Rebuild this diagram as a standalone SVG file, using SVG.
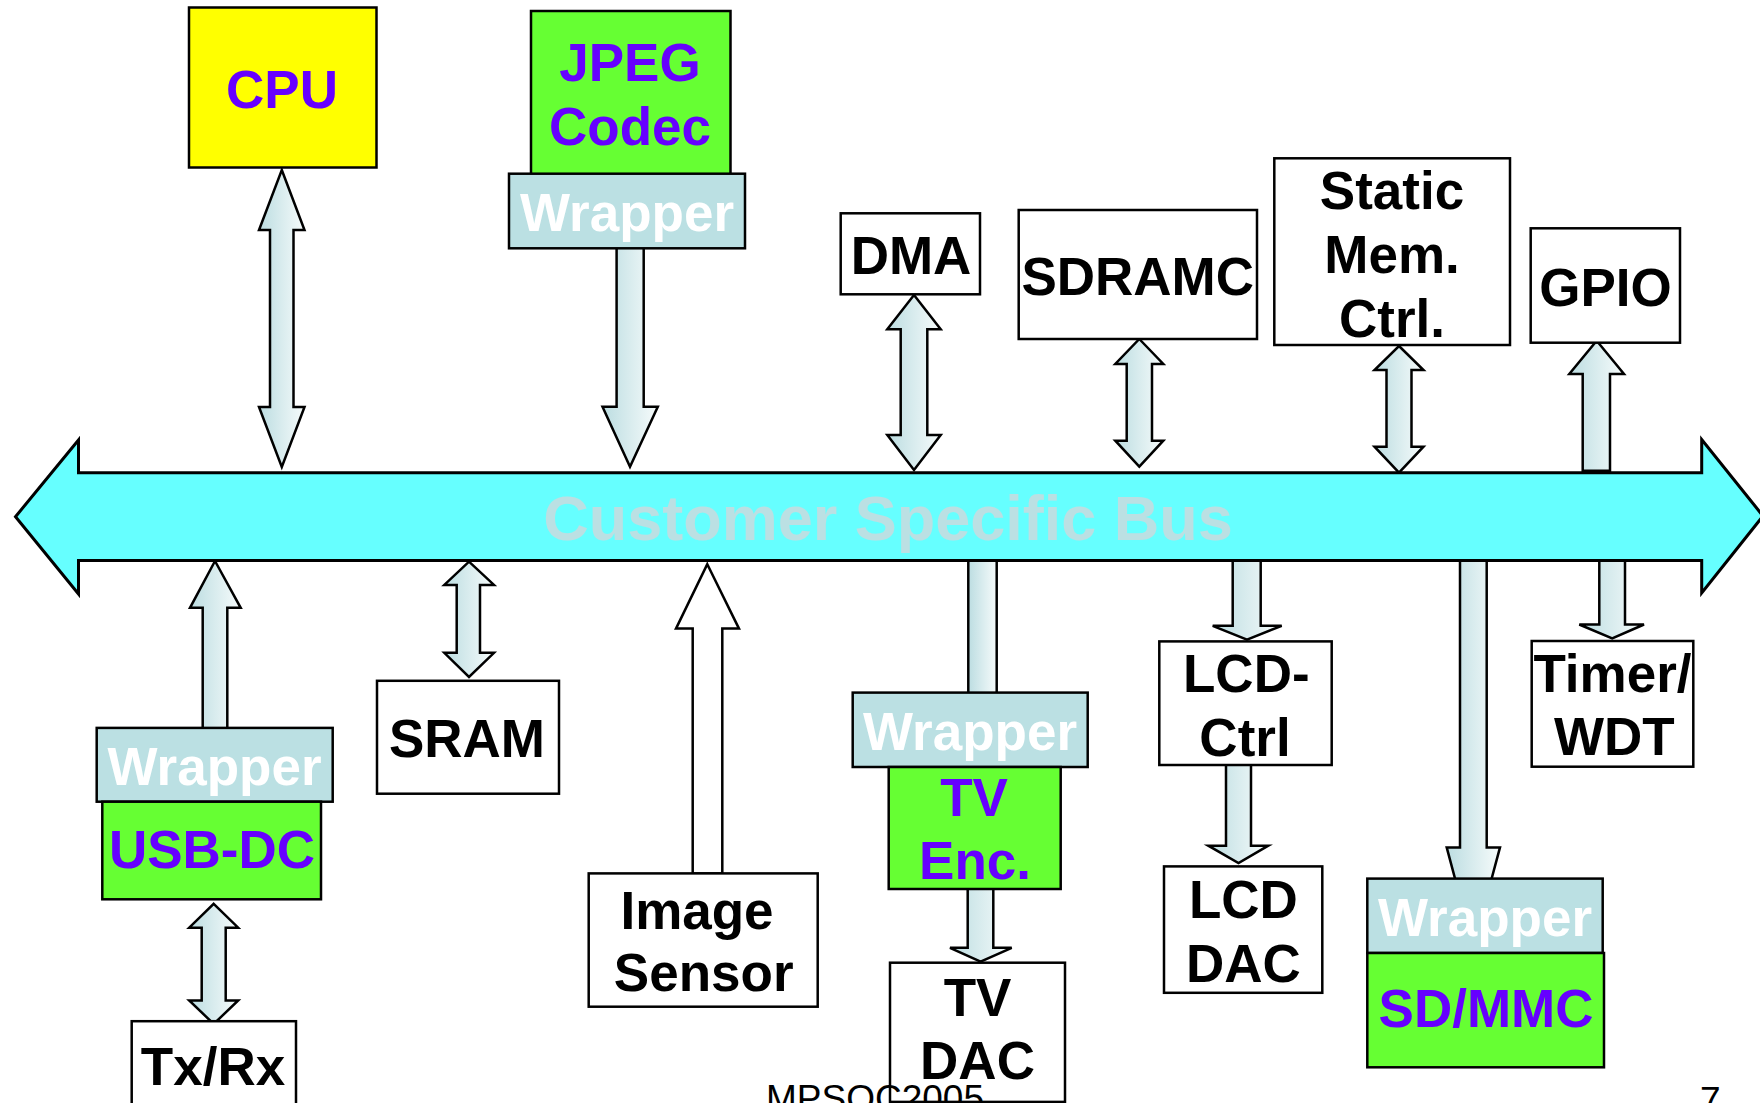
<svg xmlns="http://www.w3.org/2000/svg" width="1760" height="1103" viewBox="0 0 1760 1103">
<defs>
<linearGradient id="ag" x1="0" y1="0" x2="1" y2="0">
<stop offset="0" stop-color="#BCDDE1"/>
<stop offset="1" stop-color="#F6FBFB"/>
</linearGradient>
<style>
.arr{fill:url(#ag);stroke:#000;stroke-width:2.5;stroke-linejoin:miter}
.warr{fill:#fff;stroke:#000;stroke-width:2.5}
.box{fill:#fff;stroke:#000;stroke-width:2.5}
.grn{fill:#66FF33;stroke:#000;stroke-width:2.5}
.yel{fill:#FFFF00;stroke:#000;stroke-width:2.5}
.wrp{fill:#BBE0E3;stroke:#000;stroke-width:2.5}
.bus{fill:#66FFFF;stroke:#000;stroke-width:3}
text{font-family:"Liberation Sans",Arial,Helvetica,sans-serif;font-weight:bold;font-size:53px;text-anchor:middle}
.k{fill:#000}
.p{fill:#6600FF}
.w{fill:#fff}
.bt{fill:#BBE0E3;font-size:63px}
.ft{font-weight:normal;font-size:37px;text-anchor:start;fill:#000}
</style>
</defs>

<g id="connectors">
<!-- CPU <-> bus -->
<polygon class="arr" points="281.8,170 304.5,230 293.5,230 293.5,407 304.5,407 281.8,467 259,407 270,407 270,230 259,230"/>
<!-- JPEG -> bus -->
<polygon class="arr" points="616.6,246 643.7,246 643.7,406.7 657.8,406.7 630,466.7 602.5,406.7 616.6,406.7"/>
<!-- DMA <-> bus -->
<polygon class="arr" points="914,295 940.7,329.3 927.3,329.3 927.3,435 940.7,435 914,470 887.3,435 900.7,435 900.7,329.3 887.3,329.3"/>
<!-- SDRAMC <-> bus -->
<polygon class="arr" points="1139.3,339 1163.3,364 1152,364 1152,440.7 1163.3,440.7 1139.3,466.7 1115.3,440.7 1126.7,440.7 1126.7,364 1115.3,364"/>
<!-- Static Mem <-> bus -->
<polygon class="arr" points="1399,346 1423.5,370 1411.5,370 1411.5,446.7 1423.5,446.7 1399,472.7 1374.5,446.7 1386.5,446.7 1386.5,370 1374.5,370"/>
<!-- bus -> GPIO -->
<polygon class="arr" points="1596.7,340.7 1624,374 1610,374 1610,470.7 1582.7,470.7 1582.7,374 1569.3,374"/>
<!-- USB wrapper -> bus -->
<polygon class="arr" points="215,561 240.7,607.8 227.3,607.8 227.3,730 202.7,730 202.7,607.8 190,607.8"/>
<!-- SRAM <-> bus -->
<polygon class="arr" points="469,561.7 494,584.9 480,584.9 480,652.8 494,652.8 469,677 444.3,652.8 456.7,652.8 456.7,584.9 444.3,584.9"/>
<!-- Image sensor -> bus -->
<polygon class="warr" points="707.3,564.2 739,628.6 722.3,628.6 722.3,873.4 692.7,873.4 692.7,628.6 676,628.6"/>
<!-- bus -> TV wrapper -->
<polygon class="arr" points="968.3,556 996.7,556 996.7,695 968.3,695"/>
<!-- TV Enc -> TV DAC -->
<polygon class="arr" points="967.7,887 993.3,887 993.3,947.8 1011.7,947.8 980.6,961.7 950,947.8 967.7,947.8"/>
<!-- USB-DC <-> Tx/Rx -->
<polygon class="arr" points="213.7,903.8 238.2,927.7 225.7,927.7 225.7,1000.4 238.2,1000.4 213.7,1024 189.2,1000.4 201.7,1000.4 201.7,927.7 189.2,927.7"/>
<!-- bus -> LCD-Ctrl -->
<polygon class="arr" points="1232.7,556 1260.7,556 1260.7,625.8 1281.7,625.8 1247,639.6 1212.7,625.8 1232.7,625.8"/>
<!-- LCD-Ctrl -> LCD DAC -->
<polygon class="arr" points="1226,763 1251,763 1251,845.7 1268.3,845.7 1238.5,863 1208.3,845.7 1226,845.7"/>
<!-- bus -> SD wrapper -->
<polygon class="arr" points="1460,556 1486.7,556 1486.7,847.4 1500,847.4 1473.3,947 1446.7,847.4 1460,847.4"/>
<!-- bus -> Timer/WDT -->
<polygon class="arr" points="1599.3,556 1625,556 1625,624.5 1644,624.5 1612.2,638.5 1579.3,624.5 1599.3,624.5"/>
</g>

<g id="bus">
<polygon class="bus" points="15.5,516.7 78.5,440 78.5,472.7 1701.7,472.7 1701.7,439.5 1763,516 1701.7,593 1701.7,560.5 78.5,560.5 78.5,594"/>
<text class="bt" x="888" y="540">Customer Specific Bus</text>
</g>

<g id="cpu">
<rect class="yel" x="189" y="7.5" width="187.5" height="160"/>
<text class="p" x="282" y="108">CPU</text>
</g>

<g id="jpeg">
<rect class="grn" x="531" y="11" width="199.5" height="164"/>
<text class="p" x="630" y="81">JPEG</text>
<text class="p" x="630" y="145">Codec</text>
</g>
<g id="jpeg-wrapper">
<rect class="wrp" x="509" y="173.7" width="236" height="74.6"/>
<text class="w" x="627" y="231">Wrapper</text>
</g>

<g id="dma">
<rect class="box" x="840.7" y="213.3" width="139.3" height="81"/>
<text class="k" x="911" y="274.3">DMA</text>
</g>

<g id="sdramc">
<rect class="box" x="1018.7" y="210" width="238.3" height="129"/>
<text class="k" x="1137.7" y="295">SDRAMC</text>
</g>

<g id="static-mem">
<rect class="box" x="1274.3" y="158.3" width="235.7" height="186.7"/>
<text class="k" x="1392" y="209">Static</text>
<text class="k" x="1392" y="273">Mem.</text>
<text class="k" x="1392" y="337">Ctrl.</text>
</g>

<g id="gpio">
<rect class="box" x="1530.7" y="228.3" width="149.3" height="114.4"/>
<text class="k" x="1605.5" y="306">GPIO</text>
</g>

<g id="usb-wrapper">
<rect class="wrp" x="96.7" y="727.9" width="236" height="73.8"/>
<text class="w" x="214.5" y="785">Wrapper</text>
</g>
<g id="usb-dc">
<rect class="grn" x="102.3" y="801.7" width="218.7" height="97.6"/>
<text class="p" x="212" y="868">USB-DC</text>
</g>

<g id="txrx">
<rect class="box" x="131.7" y="1021.2" width="164.3" height="95"/>
<text class="k" x="213" y="1084.6">Tx/Rx</text>
</g>

<g id="sram">
<rect class="box" x="377" y="680.8" width="182" height="112.9"/>
<text class="k" x="467" y="757">SRAM</text>
</g>

<g id="image-sensor">
<rect class="box" x="588.7" y="873.4" width="229" height="133.3"/>
<text class="k" x="697" y="928.8">Image</text>
<text class="k" x="703.7" y="991">Sensor</text>
</g>

<g id="tv-wrapper">
<rect class="wrp" x="852.7" y="692.6" width="235" height="74.4"/>
<text class="w" x="970" y="749.8">Wrapper</text>
</g>
<g id="tv-enc">
<rect class="grn" x="888.7" y="767" width="172" height="122"/>
<text class="p" x="974" y="816">TV</text>
<text class="p" x="975" y="879">Enc.</text>
</g>

<g id="tv-dac">
<rect class="box" x="890" y="962.7" width="175" height="139.2"/>
<text class="k" x="977.5" y="1016.4">TV</text>
<text class="k" x="977.5" y="1079.4">DAC</text>
</g>

<g id="lcd-ctrl">
<rect class="box" x="1159.3" y="641.4" width="172.4" height="123.6"/>
<text class="k" x="1246.3" y="691.6">LCD-</text>
<text class="k" x="1245" y="755.6">Ctrl</text>
</g>

<g id="lcd-dac">
<rect class="box" x="1164" y="866.4" width="158.3" height="126.4"/>
<text class="k" x="1243.4" y="917.7">LCD</text>
<text class="k" x="1243.4" y="981.7">DAC</text>
</g>

<g id="sd-wrapper">
<rect class="wrp" x="1367.3" y="878.6" width="235.4" height="74.4"/>
<text class="w" x="1485" y="935.7">Wrapper</text>
</g>
<g id="sd-mmc">
<rect class="grn" x="1367.3" y="953" width="236.7" height="114.3"/>
<text class="p" x="1486" y="1027.4">SD/MMC</text>
</g>

<g id="timer-wdt">
<rect class="box" x="1531.7" y="641" width="161.6" height="125.7"/>
<text class="k" x="1612.5" y="691.7">Timer/</text>
<text class="k" x="1614.3" y="755">WDT</text>
</g>

<g id="footer">
<text class="ft" x="766" y="1111">MPSOC2005</text>
<text class="ft" x="1700" y="1113">7</text>
</g>
</svg>
